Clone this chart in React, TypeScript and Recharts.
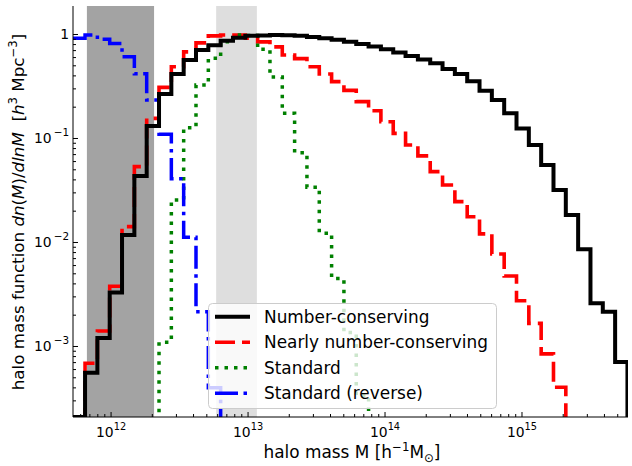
import React from "react";
import { LineChart, Line, XAxis, YAxis, ReferenceArea, Legend } from "recharts";

// histogram bin edges, log10(M / h^-1 Msun)
const binEdgesLog10 = [
  11.72, 11.81, 11.9, 11.99, 12.08, 12.17, 12.26, 12.35, 12.44, 12.53, 12.62, 12.71,
  12.8, 12.89, 12.98, 13.07, 13.16, 13.25, 13.34, 13.43, 13.52, 13.61, 13.7, 13.79,
  13.88, 13.97, 14.06, 14.15, 14.24, 14.33, 14.42, 14.51, 14.6, 14.69, 14.78, 14.87,
  14.96, 15.05, 15.14, 15.23, 15.32, 15.41, 15.5, 15.59, 15.68, 15.77,
];

// one value per bin (0 = empty bin)
const numberConserving = [
  2.1e-4, 5.6e-4, 1.21e-3, 3.3e-3, 0.0118, 0.0436, 0.132, 0.268, 0.417, 0.569, 0.71, 0.79,
  0.87, 0.93, 0.97, 0.98, 0.99, 0.985, 0.97, 0.945, 0.92, 0.89, 0.85, 0.81,
  0.765, 0.72, 0.67, 0.62, 0.575, 0.53, 0.466, 0.417, 0.355, 0.288, 0.234, 0.175,
  0.125, 0.0866, 0.0556, 0.032, 0.0184, 8.6e-3, 2.6e-3, 2.16e-3, 7.1e-4,
];
const nearlyConserving = [
  0, 6.9e-4, 1.41e-3, 3.8e-3, 0.0142, 0.0536, 0.156, 0.31, 0.49, 0.68, 0.83, 0.97,
  0.99, 0.99, 0.92, 0.85, 0.76, 0.635, 0.586, 0.49, 0.417, 0.352, 0.29, 0.226,
  0.185, 0.145, 0.112, 0.0866, 0.068, 0.048, 0.0357, 0.0247, 0.0177, 0.0121, 7.75e-3, 4.76e-3,
  2.75e-3, 1.67e-3, 8.5e-4, 4.06e-4, 0, 0, 0, 0, 0,
];
const standard = [
  0, 0, 0, 0, 0, 0, 0, 1.1e-3, 0.0256, 0.127, 0.327, 0.59,
  0.85, 0.99, 0.98, 0.72, 0.39, 0.175, 0.073, 0.034, 0.0123, 4.5e-3, 1.36e-3, 3.4e-4,
  0, 0, 0, 0, 0, 0, 0, 0, 0, 0, 0, 0,
  0, 0, 0, 0, 0, 0, 0, 0, 0,
];
const standardReverse = [
  0.92, 0.99, 0.9, 0.82, 0.61, 0.42, 0.234, 0.11, 0.041, 0.0112, 2.16e-3, 4.0e-4,
  0, 0, 0, 0, 0, 0, 0, 0, 0, 0, 0, 0,
  0, 0, 0, 0, 0, 0, 0, 0, 0, 0, 0, 0,
  0, 0, 0, 0, 0, 0, 0, 0, 0,
];

const xMajorTicks = [1e12, 1e13, 1e14, 1e15];
const xMajorLabels = ["12", "13", "14", "15"];
const yMajorTicks = [1e-3, 1e-2, 1e-1, 1];
const yMajorLabels = [["10", "\u22123"], ["10", "\u22122"], ["10", "\u22121"], ["1", ""]];

const darkBand = [6.66e11, 2.06e12];
const lightBand = [5.85e12, 1.16e13];

const XMIN = Math.pow(10, 11.722);
const XMAX = Math.pow(10, 15.774);
const YMIN = Math.pow(10, -3.678);
const YMAX = Math.pow(10, 0.274);

const FONT = "DejaVu Sans, Verdana, sans-serif";
const FLOOR = 1e-6; // empty bins are drawn below the visible range

const lift = (v?: number) => (v && v > 0 ? v : FLOOR);

const data = binEdgesLog10.map((e, i) => ({
  m: Math.pow(10, e),
  numberConserving: lift(numberConserving[i]),
  nearlyConserving: lift(nearlyConserving[i]),
  standard: lift(standard[i]),
  standardReverse: lift(standardReverse[i]),
}));

const series = [
  { key: "numberConserving", name: "Number-conserving", color: "#000000", width: 4, dash: undefined },
  { key: "nearlyConserving", name: "Nearly number-conserving", color: "#ff0000", width: 3.6, dash: "20 7" },
  { key: "standard", name: "Standard", color: "#008000", width: 3.5, dash: "3.5 6" },
  { key: "standardReverse", name: "Standard (reverse)", color: "#0000ff", width: 3.5, dash: "23 5.5 3.5 5.5" },
];
const drawOrder = ["nearlyConserving", "standard", "standardReverse", "numberConserving"];

const minorTicks = (lo: number, hi: number) => {
  const out: number[] = [];
  for (let d = Math.floor(Math.log10(lo)); d <= Math.ceil(Math.log10(hi)); d++) {
    for (let k = 2; k <= 9; k++) {
      const v = k * Math.pow(10, d);
      if (v > lo && v < hi) out.push(v);
    }
  }
  return out;
};

const xTicks = [...xMajorTicks, ...minorTicks(XMIN, XMAX)];
const yTicks = [...yMajorTicks, ...minorTicks(YMIN, YMAX)];

const majorIndex = (list: number[], v: number) =>
  list.findIndex((t) => Math.abs(t - v) / t < 1e-9);

const MAJOR = 5;
const MINOR = 3;

const BottomTick = ({ x, y, payload }: any) => {
  const i = majorIndex(xMajorTicks, payload.value);
  return (
    <g>
      <line x1={x} x2={x} y1={y} y2={y - (i >= 0 ? MAJOR : MINOR)} stroke="#000" strokeWidth={1} />
      {i >= 0 && (
        <text x={x} y={y + 20} textAnchor="middle" fontFamily={FONT} fontSize={13.9} fill="#000">
          <tspan>10</tspan>
          <tspan dy={-7} fontSize={9.8}>{xMajorLabels[i]}</tspan>
        </text>
      )}
    </g>
  );
};

const TopTick = ({ x, y, payload }: any) => {
  const i = majorIndex(xMajorTicks, payload.value);
  return <line x1={x} x2={x} y1={y} y2={y + (i >= 0 ? MAJOR : MINOR)} stroke="#000" strokeWidth={1} />;
};

const LeftTick = ({ x, y, payload }: any) => {
  const i = majorIndex(yMajorTicks, payload.value);
  return (
    <g>
      <line x1={x} x2={x + (i >= 0 ? MAJOR : MINOR)} y1={y} y2={y} stroke="#000" strokeWidth={1} />
      {i >= 0 && (
        <text x={x - 4} y={y + 5} textAnchor="end" fontFamily={FONT} fontSize={13.9} fill="#000">
          <tspan>{yMajorLabels[i][0]}</tspan>
          {yMajorLabels[i][1] && (
            <tspan dx={2} dy={-7} fontSize={10.4}>{yMajorLabels[i][1]}</tspan>
          )}
        </text>
      )}
    </g>
  );
};

const RightTick = ({ x, y, payload }: any) => {
  const i = majorIndex(yMajorTicks, payload.value);
  return <line x1={x} x2={x - (i >= 0 ? MAJOR : MINOR)} y1={y} y2={y} stroke="#000" strokeWidth={1} />;
};

const XTitle = () => (
  <text x={352} y={458} textAnchor="middle" fontFamily={FONT} fontSize={16.9} fill="#000">
    <tspan>halo mass M [h</tspan>
    <tspan dy={-7} fontSize={11.8}>{"\u22121"}</tspan>
    <tspan dy={7}>M</tspan>
    <tspan dy={4} fontSize={11.8}>{"\u2299"}</tspan>
    <tspan dy={-4}>]</tspan>
  </text>
);

const YTitle = () => (
  <text
    x={24}
    y={212}
    transform="rotate(-90 24 212)"
    textAnchor="middle"
    fontFamily={FONT}
    fontSize={16.7}
    fill="#000"
    style={{ whiteSpace: "pre" }}
  >
    <tspan>{"halo mass function "}</tspan>
    <tspan fontStyle="italic">dn</tspan>
    <tspan>(</tspan>
    <tspan fontStyle="italic">M</tspan>
    <tspan>)/</tspan>
    <tspan fontStyle="italic">dlnM</tspan>
    <tspan>{"  ["}</tspan>
    <tspan fontStyle="italic">h</tspan>
    <tspan dy={-7} fontSize={11.7}>3</tspan>
    <tspan dy={7}>{" Mpc"}</tspan>
    <tspan dy={-7} fontSize={11.7}>{"\u22123"}</tspan>
    <tspan dy={7}>]</tspan>
  </text>
);

const LegendBox = () => (
  <svg width={290} height={107} style={{ display: "block" }}>
    <rect x={0.5} y={0.5} width={288} height={105} rx={4} fill="#ffffff" fillOpacity={0.8} stroke="#cccccc" />
    {series.map((s, i) => {
      const cy = 13.7 + i * 25.5;
      return (
        <g key={s.key}>
          <line x1={7} x2={42} y1={cy} y2={cy} stroke={s.color} strokeWidth={s.width} strokeDasharray={s.dash} />
          <text x={56} y={cy + 6} fontFamily={FONT} fontSize={16.9} fill="#000">
            {s.name}
          </text>
        </g>
      );
    })}
  </svg>
);

export default function App() {
  return (
    <div style={{ position: "absolute", left: 0, top: 0, width: 632, height: 466, background: "#fff" }}>
      <LineChart width={632} height={466} data={data} margin={{ top: 6, right: 4, left: 0, bottom: 0 }}>
        <ReferenceArea x1={darkBand[0]} x2={darkBand[1]} fill="#a3a3a3" fillOpacity={1} stroke="none" />
        <ReferenceArea x1={lightBand[0]} x2={lightBand[1]} fill="#dedede" fillOpacity={1} stroke="none" />
        <XAxis
          dataKey="m"
          type="number"
          scale="log"
          domain={[XMIN, XMAX]}
          allowDataOverflow
          ticks={xTicks}
          interval={0}
          tickSize={0}
          tickMargin={0}
          tickLine={false}
          height={49}
          axisLine={{ stroke: "#000", strokeWidth: 1 }}
          tick={(p: any) => <BottomTick {...p} />}
          label={<XTitle />}
        />
        <XAxis
          xAxisId="top"
          orientation="top"
          dataKey="m"
          type="number"
          scale="log"
          domain={[XMIN, XMAX]}
          allowDataOverflow
          ticks={xTicks}
          interval={0}
          tickSize={0}
          tickMargin={0}
          tickLine={false}
          height={0}
          axisLine={{ stroke: "#000", strokeWidth: 1 }}
          tick={(p: any) => <TopTick {...p} />}
        />
        <YAxis
          type="number"
          scale="log"
          domain={[YMIN, YMAX]}
          allowDataOverflow
          ticks={yTicks}
          interval={0}
          tickSize={0}
          tickMargin={0}
          tickLine={false}
          width={73}
          axisLine={{ stroke: "#000", strokeWidth: 1 }}
          tick={(p: any) => <LeftTick {...p} />}
          label={<YTitle />}
        />
        <YAxis
          yAxisId="right"
          orientation="right"
          type="number"
          scale="log"
          domain={[YMIN, YMAX]}
          allowDataOverflow
          ticks={yTicks}
          interval={0}
          tickSize={0}
          tickMargin={0}
          tickLine={false}
          width={0}
          axisLine={{ stroke: "#000", strokeWidth: 1 }}
          tick={(p: any) => <RightTick {...p} />}
        />
        {drawOrder.map((k) => {
          const s = series.find((q) => q.key === k)!;
          return (
            <Line
              key={s.key}
              dataKey={s.key}
              name={s.name}
              type="stepAfter"
              stroke={s.color}
              strokeWidth={s.width}
              strokeDasharray={s.dash}
              dot={false}
              activeDot={false}
              isAnimationActive={false}
            />
          );
        })}
        <Legend
          layout="vertical"
          align="center"
          verticalAlign="middle"
          content={() => <LegendBox />}
          wrapperStyle={{ left: 208, top: 303, width: 290, height: 107 }}
        />
      </LineChart>
    </div>
  );
}
